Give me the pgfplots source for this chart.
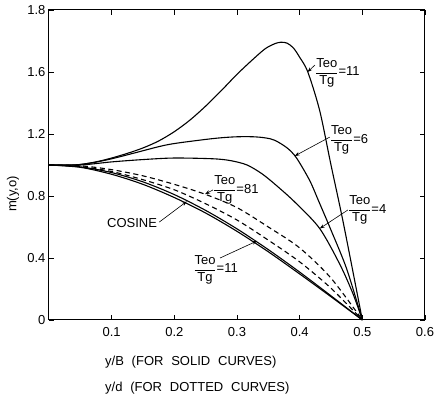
\documentclass[border=0pt]{standalone}
\usepackage{fontspec}
\setmainfont{Liberation Sans}
\usepackage{amsmath}
\usepackage{pgfplots}
\pgfplotsset{compat=1.18}
\usetikzlibrary{arrows.meta,calc}
\newcommand{\fr}[1]{$\dfrac{\text{Teo}}{\text{Tg}}$=#1}
\begin{document}
\fontsize{13}{15.5}\selectfont
\begin{tikzpicture}
\begin{axis}[name=ax, scale only axis, width=376pt, height=310pt,
  xmin=0, xmax=0.6, ymin=0, ymax=2.0,
  xtick={0.1,0.2,0.3,0.4,0.5,0.6}, xticklabels={0.1,0.2,0.3,0.4,0.5,0.6},
  ytick={0,0.4,0.8,1.2,1.6,2.0}, yticklabels={0,0.4,0.8,1.2,1.6,1.8},
  tick align=inside, major tick length=5pt,
  axis line style={line width=1pt}, tick style={line width=0.8pt, black},
  clip=false, /pgf/number format/assume math mode=true,
  xticklabel style={yshift=-3pt}, yticklabel style={xshift=1pt}]
% Teo/Tg = 11 (solid, upper)
\addplot[black, line width=1.1pt, smooth] coordinates {(0,1.0) (0.03,1.0) (0.05,1.003) (0.075,1.02) (0.1,1.045) (0.125,1.075) (0.15,1.11) (0.175,1.155) (0.2,1.215) (0.225,1.29) (0.25,1.38) (0.275,1.48) (0.30,1.585) (0.325,1.68) (0.345,1.75) (0.36,1.782) (0.37,1.792) (0.38,1.786) (0.39,1.755) (0.40,1.695) (0.413,1.60) (0.432,1.35) (0.45,1.00) (0.47,0.62) (0.5,0)};
% Teo/Tg = 6
\addplot[black, line width=1.1pt, smooth] coordinates {(0,1.0) (0.04,1.0) (0.07,1.015) (0.10,1.04) (0.134,1.075) (0.188,1.13) (0.24,1.16) (0.273,1.175) (0.30,1.182) (0.326,1.182) (0.345,1.175) (0.36,1.16) (0.38,1.11) (0.395,1.045) (0.416,0.90) (0.43,0.77) (0.45,0.58) (0.475,0.33) (0.5,0)};
% Teo/Tg = 4
\addplot[black, line width=1.1pt, smooth] coordinates {(0,1.0) (0.05,1.0) (0.10,1.02) (0.15,1.035) (0.20,1.045) (0.262,1.04) (0.29,1.028) (0.316,1.0) (0.341,0.94) (0.368,0.85) (0.395,0.75) (0.432,0.59) (0.464,0.36) (0.485,0.17) (0.5,0)};
% Teo/Tg = 81 (dashed)
\addplot[black, line width=1.1pt, smooth, dash pattern=on 5pt off 3.5pt] coordinates {(0,1.0) (0.05,0.995) (0.1,0.97) (0.15,0.93) (0.2,0.875) (0.25,0.81) (0.3,0.725) (0.35,0.60) (0.4,0.465) (0.45,0.27) (0.5,0)};
% second dashed
\addplot[black, line width=1.1pt, smooth, dash pattern=on 5pt off 3.5pt] coordinates {(0,1.0) (0.05,0.99) (0.1,0.958) (0.15,0.905) (0.2,0.84) (0.25,0.75) (0.3,0.645) (0.35,0.515) (0.4,0.375) (0.45,0.205) (0.5,0)};
% cosine
\addplot[black, line width=1.1pt, smooth] coordinates {(0,1.0) (0.05,0.988) (0.1,0.951) (0.15,0.891) (0.2,0.809) (0.25,0.707) (0.3,0.588) (0.35,0.454) (0.4,0.309) (0.45,0.156) (0.5,0)};
% Teo/Tg = 11 (lower solid)
\addplot[black, line width=1.1pt, smooth] coordinates {(0,1.0) (0.05,0.985) (0.1,0.94) (0.15,0.875) (0.2,0.79) (0.25,0.69) (0.3,0.572) (0.35,0.44) (0.4,0.297) (0.45,0.15) (0.5,0)};

% annotations
\node[anchor=west, inner sep=0pt] at (axis cs:0.4244,1.594) {\fr{11}};
\draw[-{Stealth[length=5pt,width=3.5pt]}, line width=0.6pt] (axis cs:0.4244,1.645) -- (axis cs:0.4125,1.60);
\node[anchor=west, inner sep=0pt] at (axis cs:0.448,1.161) {\fr{6}};
\draw[-{Stealth[length=5pt,width=3.5pt]}, line width=0.6pt] (axis cs:0.448,1.18) -- (axis cs:0.392,1.058);
\node[anchor=west, inner sep=0pt] at (axis cs:0.477,0.71) {\fr{4}};
\draw[-{Stealth[length=5pt,width=3.5pt]}, line width=0.6pt] (axis cs:0.477,0.71) -- (axis cs:0.432,0.59);
\node[anchor=west, inner sep=0pt] at (axis cs:0.2616,0.839) {\fr{81}};
\draw[-{Stealth[length=5pt,width=3.5pt]}, line width=0.6pt] (axis cs:0.2616,0.839) -- (axis cs:0.249,0.812);
\node[anchor=west, inner sep=0pt] at (axis cs:0.0925,0.626) {COSINE};
\draw[-{Stealth[length=5pt,width=3.5pt]}, line width=0.6pt] (axis cs:0.176,0.632) -- (axis cs:0.22,0.765);
\node[anchor=west, inner sep=0pt] at (axis cs:0.23,0.323) {\fr{11}};
\draw[-{Stealth[length=5pt,width=3.5pt]}, line width=0.6pt] (axis cs:0.273,0.40) -- (axis cs:0.332,0.51);
% axis labels
\node[rotate=90, inner sep=0pt] at (axis cs:-0.0574,0.813) {m(y,o)};
\node[anchor=west, inner sep=0pt] at (axis cs:0.0893,-0.271) {\spaceskip=0.6em y/B (FOR SOLID CURVES)};
\node[anchor=west, inner sep=0pt] at (axis cs:0.0893,-0.439) {\spaceskip=0.6em y/d (FOR DOTTED CURVES)};
\end{axis}
\pgfresetboundingbox
\path[use as bounding box] ($(ax.south west)+(-49pt,-80pt)$) rectangle ($(ax.north east)+(12pt,10pt)$);
\end{tikzpicture}
\end{document}
